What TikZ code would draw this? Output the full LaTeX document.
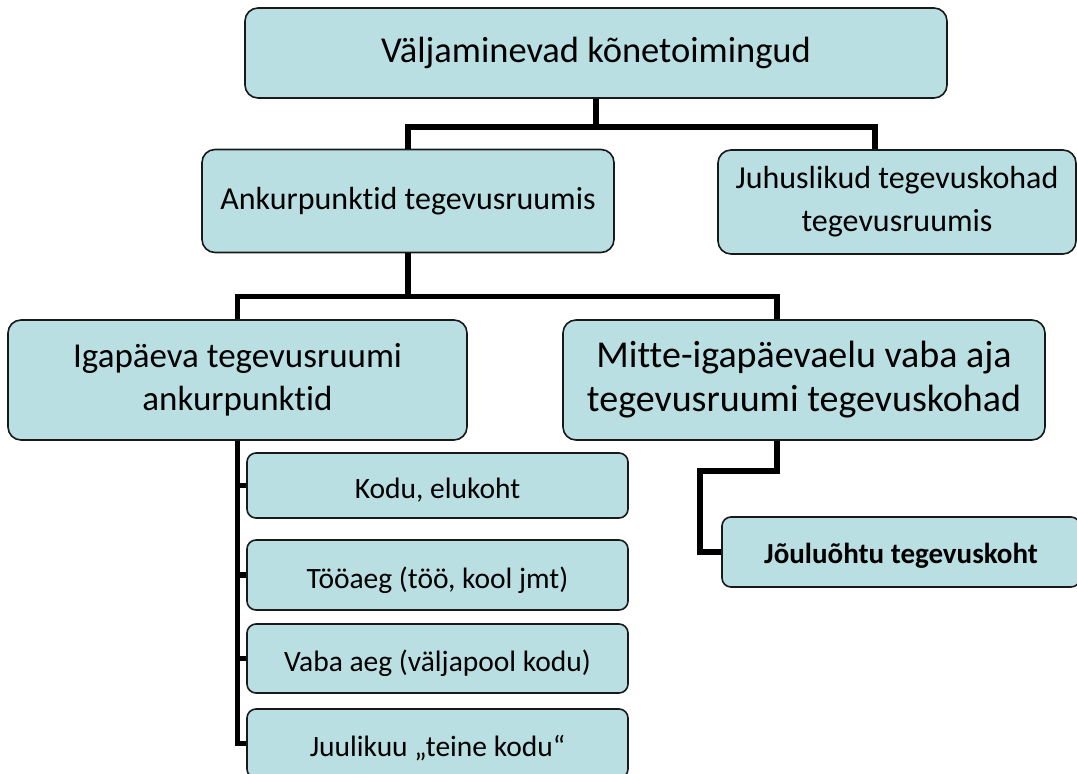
\documentclass[tikz,border=0pt]{standalone}
\usepackage{fontspec}
\setmainfont[Ligatures=NoCommon]{Carlito}
\definecolor{boxfill}{HTML}{B9DFE3}
\begin{document}
\begin{tikzpicture}[x=1pt,y=-1pt,
  box/.style={draw=black!90,line width=1.6pt,fill=boxfill,rounded corners=13pt,align=center,inner sep=0pt},
  small box/.style={box,rounded corners=9pt,minimum width=381,text height=28pt,text depth=2pt,font=\fontsize{29.5}{35}\selectfont},
  link/.style={line width=5.5pt}]
  \useasboundingbox (0,0) rectangle (1077,774);

  \node[box,minimum width=702,minimum height=90,font=\fontsize{36.5}{44}\selectfont] (top) at (596,53) {Väljaminevad kõnetoimingud};
  \node[box,minimum width=412,minimum height=103,font=\fontsize{32}{43}\selectfont] (ank) at (408,201) {Ankurpunktid tegevusruumis};
  \node[box,minimum width=358,minimum height=104,font=\fontsize{32}{43}\selectfont] (juh) at (897,202) {Juhuslikud tegevuskohad\\tegevusruumis};
  \node[box,minimum width=459,minimum height=120,font=\fontsize{35}{43}\selectfont] (iga) at (237.5,380) {Igapäeva tegevusruumi\\ankurpunktid};
  \node[box,minimum width=482,minimum height=120,font=\fontsize{38}{44}\selectfont] (mit) at (804,380) {Mitte-igapäevaelu vaba aja\\tegevusruumi tegevuskohad};
  \node[small box,minimum height=65] (kodu) at (437.5,485.5) {Kodu, elukoht};
  \node[small box,minimum height=70] (too) at (437.5,575) {Tööaeg (töö, kool jmt)};
  \node[small box,minimum height=69] (vaba) at (437.5,658.5) {Vaba aeg (väljapool kodu)};
  \node[small box,minimum height=69] (juu) at (437.5,743.5) {Juulikuu „teine kodu“};
  \node[small box,minimum width=358,minimum height=70,text height=24pt,text depth=2pt,font=\fontsize{29}{35}\selectfont\bfseries] (jou) at (901,552) {Jõuluõhtu tegevuskoht};

  \draw[link] (top.south) -- ++(0,28) coordinate (j1);
  \draw[link] (ank.north) |- (j1) -| ([xshift=-22pt]juh.north);
  \draw[link] (ank.south) -- ++(0,43) coordinate (j2);
  \draw[link] (iga.north) |- (j2) -| ([xshift=-27pt]mit.north);
  \draw[link] ([xshift=-27pt]mit.south) -- ++(0,30) -- ++(-77,0) |- (jou.west);
  \foreach \n in {kodu,too,vaba,juu}
    \draw[link] (iga.south) |- (\n.west);
\end{tikzpicture}
\end{document}
